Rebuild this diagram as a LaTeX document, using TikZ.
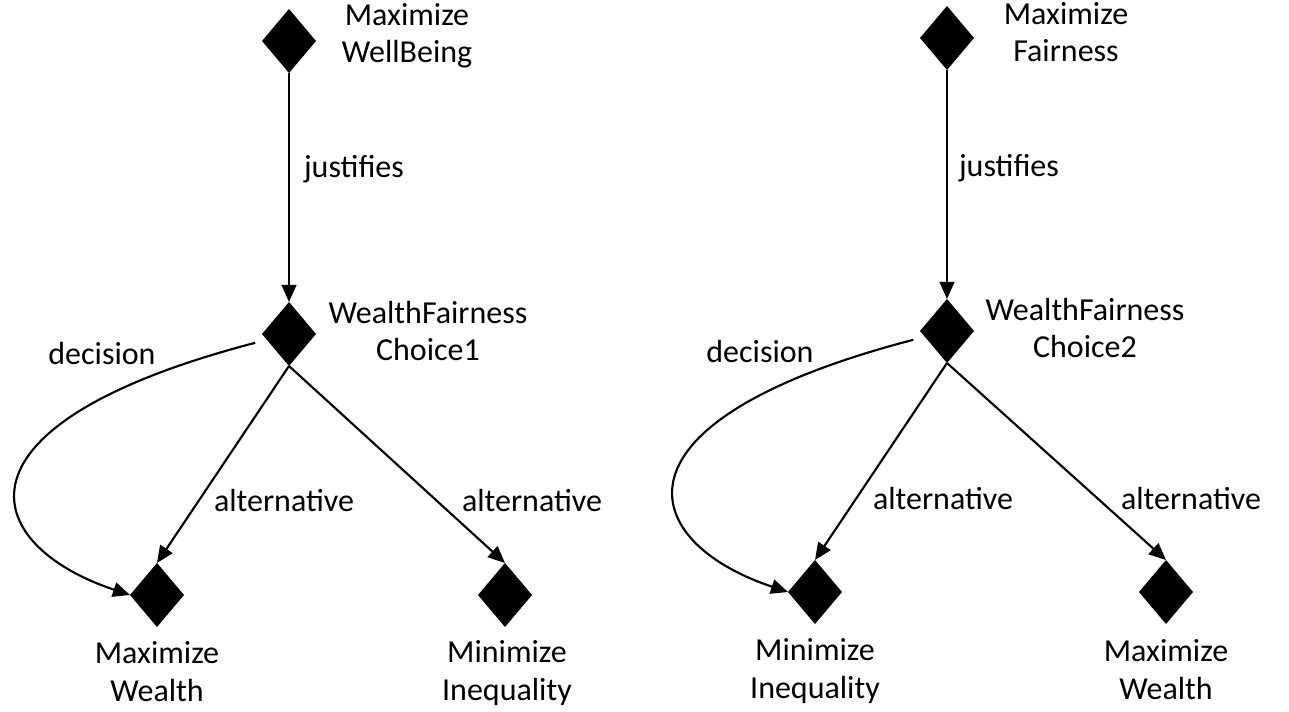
\documentclass[tikz,border=0pt]{standalone}
\usepackage{fontspec}
\setmainfont{Carlito}
\usetikzlibrary{shapes.geometric, arrows.meta}

\begin{document}
\begin{tikzpicture}[x = 0.75pt, y = -0.75pt,
        goal/.style = {diamond, fill, inner sep = 0, outer sep = 0, minimum width = 40.5pt, minimum height = 48pt},
        goal text/.style = {align = center, anchor = base, font = \fontsize{24}{28}\selectfont},
        edge text/.style = {anchor = base, font = \fontsize{24}{28}\selectfont},
        link/.style = {line width = 1.6pt, -{Triangle[length = 12.75pt, width = 11pt]}}]
            \useasboundingbox (0, 0) rectangle (1289, 712);
            % first choice
            \node [goal] (wellbeing) at (289, 41) {};
            \node [goal] (choiceA) at (289, 334) {};
            \node [goal] (wealthA) at (157, 595) {};
            \node [goal] (inequalityA) at (505, 595) {};
            \node [goal text] (wellbeingText) at (407, 63) {Maximize\\WellBeing};
            \node [goal text] (choiceAText) at (428, 361) {WealthFairness\\Choice1};
            \node [goal text] (wealthAText) at (157, 701) {Maximize\\Wealth};
            \node [goal text] (inequalityAText) at (507, 700) {Minimize\\Inequality};
            \draw [link] (wellbeing.south) -- (choiceA.north);
            \draw [link] (choiceA.south) -- (wealthA.north);
            \draw [link] (choiceA.south) -- (inequalityA.north);
            \draw [link, shorten < = 9pt] (choiceA) .. controls (-60, 425) and (-20, 545) .. (wealthA.west);
            \node [edge text] (justifiesA) at (354, 178) {justifies};
            \node [edge text] (altA1) at (284, 512) {alternative};
            \node [edge text] (altA2) at (532, 512) {alternative};
            \node [edge text] (decisionA) at (102, 365) {decision};
            % second choice
            \node [goal] (fairness) at (947, 38) {};
            \node [goal] (choiceB) at (947, 331) {};
            \node [goal] (inequalityB) at (815, 592) {};
            \node [goal] (wealthB) at (1166, 592) {};
            \node [goal text] (fairnessText) at (1066, 62) {Maximize\\Fairness};
            \node [goal text] (choiceBText) at (1085, 358) {WealthFairness\\Choice2};
            \node [goal text] (inequalityBText) at (815, 698) {Minimize\\Inequality};
            \node [goal text] (wealthBText) at (1166, 699) {Maximize\\Wealth};
            \draw [link] (fairness.south) -- (choiceB.north);
            \draw [link] (choiceB.south) -- (inequalityB.north);
            \draw [link] (choiceB.south) -- (wealthB.north);
            \draw [link, shorten < = 9pt] (choiceB) .. controls (598, 422) and (638, 542) .. (inequalityB.west);
            \node [edge text] (justifiesB) at (1009, 177) {justifies};
            \node [edge text] (altB1) at (943, 510) {alternative};
            \node [edge text] (altB2) at (1191, 510) {alternative};
            \node [edge text] (decisionB) at (760, 363) {decision};
\end{tikzpicture}
\end{document}
